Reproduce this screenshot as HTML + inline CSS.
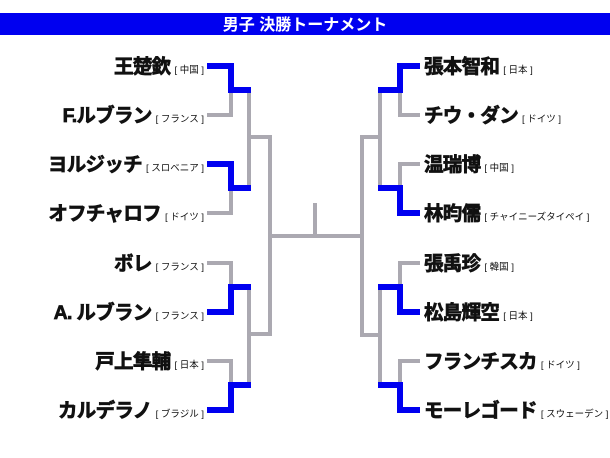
<!DOCTYPE html>
<html><head><meta charset="utf-8"><style>
html,body{margin:0;padding:0;background:#fff;}
svg{display:block;}
text{font-family:"Liberation Sans","Noto Sans CJK JP",sans-serif;font-weight:bold;}
.n{font-size:19.5px;stroke:#111;stroke-width:0.7px;letter-spacing:-0.7px;}
.c{font-size:9.5px;font-weight:normal;letter-spacing:0;}
</style></head><body>
<svg width="610" height="458" viewBox="0 0 610 458" xmlns="http://www.w3.org/2000/svg">
<rect x="0" y="13" width="610" height="22" fill="#0000f0"/>
<text x="305" y="30" text-anchor="middle" fill="#fff" font-size="16">男子 決勝トーナメント</text>

<g fill="none" stroke="#aba9b1" stroke-width="4" stroke-linejoin="miter">
<polyline points="207,115 231,115 231,90"/>
<polyline points="207,213 231,213 231,188"/>
<polyline points="207,263 231,263 231,287"/>
<polyline points="207,361 231,361 231,385"/>
<line x1="249" y1="90" x2="249" y2="188"/>
<line x1="249" y1="137" x2="270" y2="137"/>
<line x1="249" y1="287" x2="249" y2="385"/>
<line x1="249" y1="334" x2="270" y2="334"/>
<line x1="270" y1="135" x2="270" y2="336"/>
<line x1="270" y1="236" x2="362" y2="236"/>
<line x1="315" y1="203" x2="315" y2="236"/>
<polyline points="420,115 400,115 400,90"/>
<polyline points="420,164 400,164 400,188"/>
<polyline points="420,263 400,263 400,287"/>
<polyline points="420,361 400,361 400,385"/>
<line x1="380" y1="90" x2="380" y2="188"/>
<line x1="380" y1="137" x2="362" y2="137"/>
<line x1="380" y1="287" x2="380" y2="385"/>
<line x1="380" y1="335" x2="362" y2="335"/>
<line x1="362" y1="135" x2="362" y2="337"/>
</g>
<g fill="none" stroke="#0000f0" stroke-width="6" stroke-linejoin="miter">
<polyline points="207,66 231,66 231,90 251,90"/>
<polyline points="207,164 231,164 231,188 251,188"/>
<polyline points="207,312 231,312 231,287 251,287"/>
<polyline points="207,410 231,410 231,385 251,385"/>
<polyline points="420,66 400,66 400,90 378,90"/>
<polyline points="420,213 400,213 400,188 378,188"/>
<polyline points="420,312 400,312 400,287 378,287"/>
<polyline points="420,410 400,410 400,385 378,385"/>
</g>

<g fill="#111" text-anchor="end">
<text x="204" y="73"><tspan class="n">王楚欽</tspan><tspan class="c" dx="4">[ 中国 ]</tspan></text>
<text x="204" y="122"><tspan class="n">F.ルブラン</tspan><tspan class="c" dx="4">[ フランス ]</tspan></text>
<text x="204" y="171"><tspan class="n">ヨルジッチ</tspan><tspan class="c" dx="4">[ スロベニア ]</tspan></text>
<text x="204" y="220"><tspan class="n">オフチャロフ</tspan><tspan class="c" dx="4">[ ドイツ ]</tspan></text>
<text x="204" y="270"><tspan class="n">ボレ</tspan><tspan class="c" dx="4">[ フランス ]</tspan></text>
<text x="204" y="319"><tspan class="n">A. ルブラン</tspan><tspan class="c" dx="4">[ フランス ]</tspan></text>
<text x="204" y="368"><tspan class="n">戸上隼輔</tspan><tspan class="c" dx="4">[ 日本 ]</tspan></text>
<text x="204" y="417"><tspan class="n">カルデラノ</tspan><tspan class="c" dx="4">[ ブラジル ]</tspan></text>
</g>
<g fill="#111">
<text x="424" y="73"><tspan class="n">張本智和</tspan><tspan class="c" dx="4">[ 日本 ]</tspan></text>
<text x="424" y="122"><tspan class="n">チウ・ダン</tspan><tspan class="c" dx="4">[ ドイツ ]</tspan></text>
<text x="424" y="171"><tspan class="n">温瑞博</tspan><tspan class="c" dx="4">[ 中国 ]</tspan></text>
<text x="424" y="220"><tspan class="n">林昀儒</tspan><tspan class="c" dx="4">[ チャイニーズタイペイ ]</tspan></text>
<text x="424" y="270"><tspan class="n">張禹珍</tspan><tspan class="c" dx="4">[ 韓国 ]</tspan></text>
<text x="424" y="319"><tspan class="n">松島輝空</tspan><tspan class="c" dx="4">[ 日本 ]</tspan></text>
<text x="424" y="368"><tspan class="n">フランチスカ</tspan><tspan class="c" dx="4">[ ドイツ ]</tspan></text>
<text x="424" y="417"><tspan class="n">モーレゴード</tspan><tspan class="c" dx="4">[ スウェーデン ]</tspan></text>
</g>
</svg>
</body></html>
